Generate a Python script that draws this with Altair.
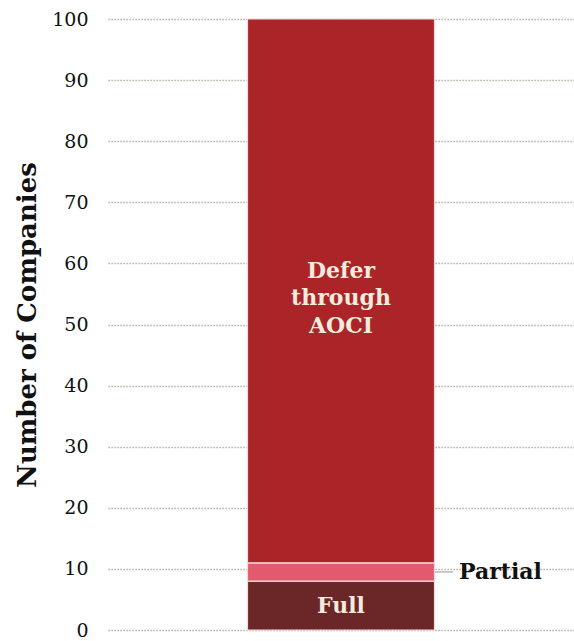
import altair as alt
import pandas as pd

categories = ["Full", "Partial", "Defer through AOCI"]
counts = [8, 3, 89]
colors = ["#6B2628", "#E35A6F", "#AA2428"]
group = "All"

df = pd.DataFrame({"group": [group] * 3, "cat": categories, "count": counts,
                   "order": [0, 1, 2]})

FONT = "DejaVu Serif"

base = alt.Chart(df).transform_window(
    end="sum(count)", sort=[alt.SortField("order")], frame=[None, 0]
).transform_calculate(start="datum.end - datum.count",
                      mid="(datum.end + datum.start) / 2")

xenc = alt.X("group:N", axis=None,
             scale=alt.Scale(paddingInner=0, paddingOuter=0.746))

bars = base.mark_bar(stroke="#F3D9D9", strokeWidth=1.2).encode(
    x=xenc,
    y=alt.Y("start:Q", scale=alt.Scale(domain=[0, 100], nice=False),
            axis=alt.Axis(values=list(range(0, 101, 10)), title="Number of Companies",
                          grid=True, gridDash=[1.2, 1.8], gridColor="#A39A86",
                          gridWidth=1.3, domain=False, ticks=False,
                          labelFont=FONT, labelFontSize=19, labelColor="#111111",
                          labelPadding=20, titleFont=FONT, titleFontSize=26,
                          titleFontWeight="bold", titleColor="#111111",
                          titlePadding=11)),
    y2="end:Q",
    color=alt.Color("cat:N", scale=alt.Scale(domain=categories, range=colors),
                    legend=None),
)

defer = base.transform_filter("datum.cat == 'Defer through AOCI'").transform_calculate(
    lines="split('Defer|through|AOCI', '|')"
).mark_text(font=FONT, fontSize=22, fontWeight="bold", color="#F3EBDD",
            lineHeight=27.5, baseline="middle", dy=-20).encode(
    x=xenc, y=alt.Y("mid:Q"), text="lines:N")

full = base.transform_filter("datum.cat == 'Full'").mark_text(
    font=FONT, fontSize=22, fontWeight="bold", color="#F3EBDD",
    baseline="middle").encode(x=xenc, y=alt.Y("mid:Q"), text="cat:N")

partial_lbl = base.transform_filter("datum.cat == 'Partial'").mark_text(
    font=FONT, fontSize=22, fontWeight="bold", color="#111111", align="left",
    baseline="middle", dx=118).encode(x=xenc, y="mid:Q", text="cat:N")

leader = base.transform_filter("datum.cat == 'Partial'").mark_tick(
    orient="horizontal", color="#999999", thickness=1.5, size=18, xOffset=103
).encode(x=xenc, y="mid:Q")

chart = alt.layer(bars, defer, full, leader, partial_lbl).properties(
    width=466, height=611,
    padding={"left": 108, "top": 19, "right": 0, "bottom": 11},
    autosize=alt.AutoSizeParams(type="none"),
).configure_view(stroke=None)

chart.save("out.html", embed_options={"renderer": "svg", "actions": False})
